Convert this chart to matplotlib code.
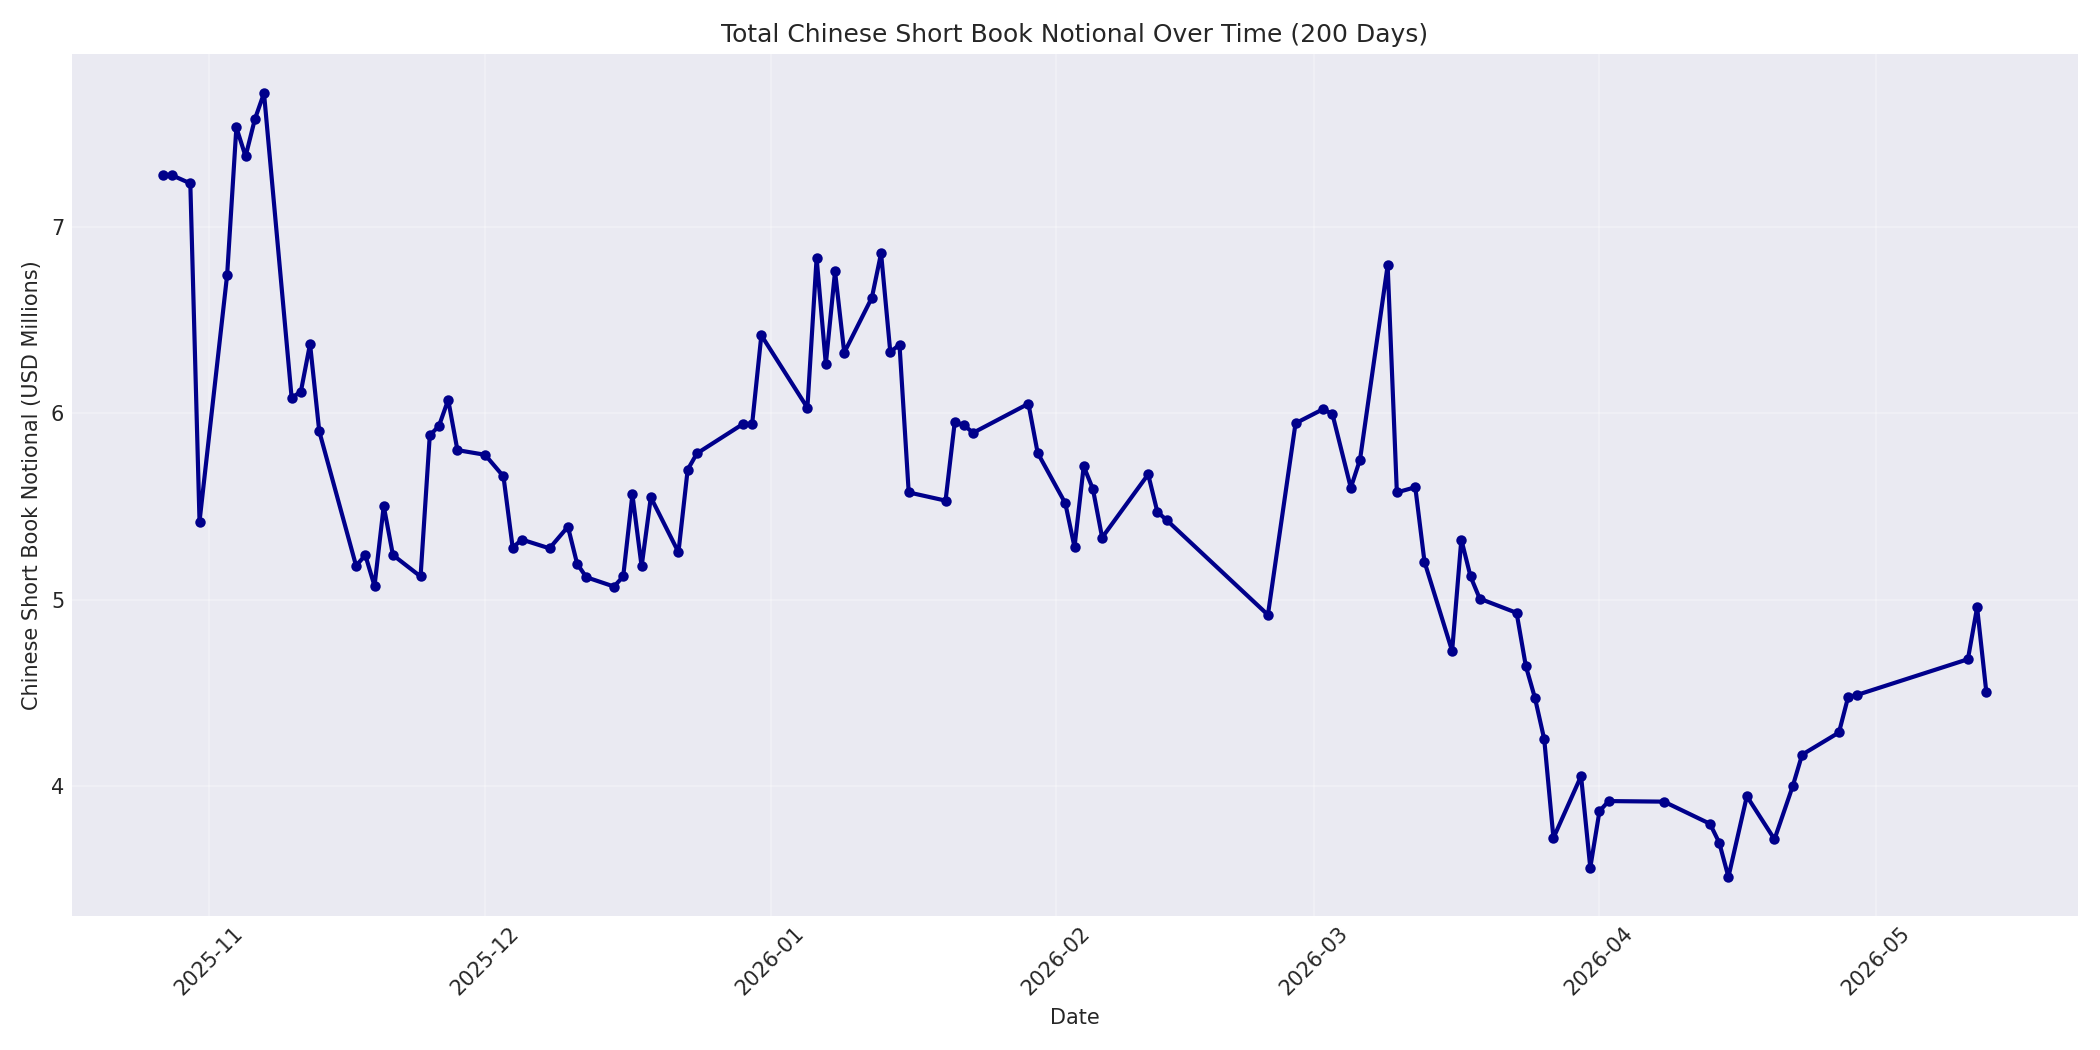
import numpy as np
import pandas as pd
import matplotlib
matplotlib.use("Agg")
import matplotlib.pyplot as plt

# trading days
dates = [
    "2025-10-27", "2025-10-28", "2025-10-30", "2025-10-31",
    "2025-11-03", "2025-11-04", "2025-11-05", "2025-11-06", "2025-11-07",
    "2025-11-10", "2025-11-11", "2025-11-12", "2025-11-13",
    "2025-11-17", "2025-11-18", "2025-11-19", "2025-11-20", "2025-11-21",
    "2025-11-24", "2025-11-25", "2025-11-26", "2025-11-27", "2025-11-28",
    "2025-12-01", "2025-12-03", "2025-12-04", "2025-12-05",
    "2025-12-08", "2025-12-10", "2025-12-11", "2025-12-12",
    "2025-12-15", "2025-12-16", "2025-12-17", "2025-12-18", "2025-12-19",
    "2025-12-22", "2025-12-23", "2025-12-24",
    "2025-12-29", "2025-12-30", "2025-12-31",
    "2026-01-05", "2026-01-06", "2026-01-07", "2026-01-08", "2026-01-09",
    "2026-01-12", "2026-01-13", "2026-01-14", "2026-01-15", "2026-01-16",
    "2026-01-20", "2026-01-21", "2026-01-22", "2026-01-23",
    "2026-01-29", "2026-01-30",
    "2026-02-02", "2026-02-03", "2026-02-04", "2026-02-05", "2026-02-06",
    "2026-02-11", "2026-02-12", "2026-02-13",
    "2026-02-24", "2026-02-27",
    "2026-03-02", "2026-03-03", "2026-03-05", "2026-03-06",
    "2026-03-09", "2026-03-10", "2026-03-12", "2026-03-13",
    "2026-03-16", "2026-03-17", "2026-03-18", "2026-03-19",
    "2026-03-23", "2026-03-24", "2026-03-25", "2026-03-26", "2026-03-27",
    "2026-03-30", "2026-03-31", "2026-04-01", "2026-04-02",
    "2026-04-08",
    "2026-04-13", "2026-04-14", "2026-04-15", "2026-04-17",
    "2026-04-20", "2026-04-22", "2026-04-23",
    "2026-04-27", "2026-04-28", "2026-04-29",
    "2026-05-11", "2026-05-12", "2026-05-13",
]

notional = [
    7.281, 7.278, 7.234, 5.420,
    6.744, 7.534, 7.379, 7.577, 7.718,
    6.084, 6.116, 6.373, 5.904,
    5.182, 5.240, 5.074, 5.503, 5.240,
    5.125, 5.882, 5.933, 6.073, 5.803,
    5.778, 5.662, 5.280, 5.323,
    5.276, 5.392, 5.193, 5.121,
    5.071, 5.125, 5.565, 5.179, 5.550,
    5.255, 5.698, 5.785,
    5.943, 5.943, 6.419,
    6.030, 6.834, 6.264, 6.762, 6.326,
    6.621, 6.859, 6.329, 6.369, 5.576,
    5.532, 5.954, 5.936, 5.896,
    6.052, 5.788,
    5.518, 5.283, 5.716, 5.594, 5.334,
    5.673, 5.471, 5.428,
    4.919, 5.947,
    6.023, 5.997, 5.601, 5.752,
    6.794, 5.576, 5.604, 5.204,
    4.725, 5.323, 5.125, 5.006,
    4.930, 4.645, 4.472, 4.252, 3.722,
    4.054, 3.563, 3.866, 3.920,
    3.917,
    3.798, 3.697, 3.513, 3.946,
    3.715, 4.003, 4.169,
    4.288, 4.479, 4.490,
    4.681, 4.959, 4.505,
]

df = pd.DataFrame({"date": pd.to_datetime(dates), "notional": notional})

plt.style.use("seaborn-v0_8-darkgrid")
plt.rcParams["font.family"] = ["DejaVu Sans"]
fig, ax = plt.subplots(figsize=(14, 7), dpi=150)

ax.plot(df["date"], df["notional"], marker="o", color="darkblue",
        linewidth=2, markersize=4)

ax.set_title("Total Chinese Short Book Notional Over Time (200 Days)")
ax.set_xlabel("Date")
ax.set_ylabel("Chinese Short Book Notional (USD Millions)")
ax.grid(True, alpha=0.3)
plt.xticks(rotation=45)
plt.tight_layout()
plt.savefig("out.png", dpi=150)
